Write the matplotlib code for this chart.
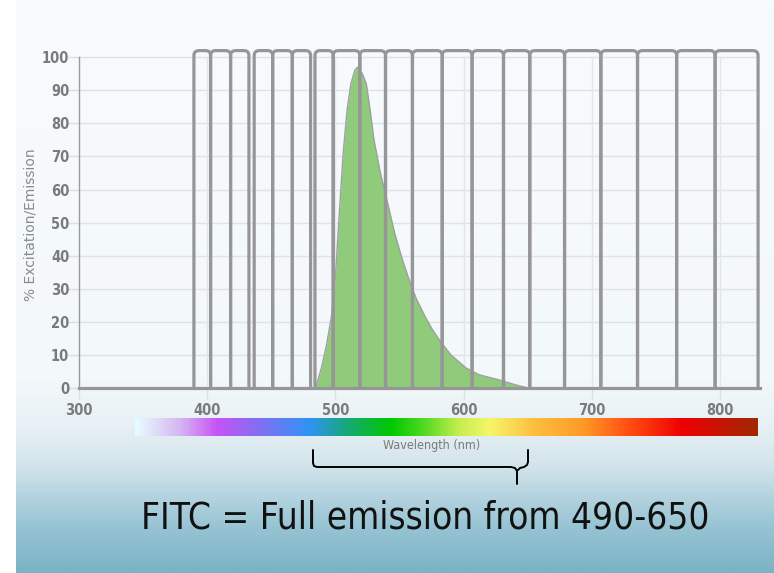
import numpy as np
import matplotlib
matplotlib.use("Agg")
import matplotlib.pyplot as plt
from matplotlib.patches import FancyBboxPatch
from matplotlib.colors import LinearSegmentedColormap
from matplotlib.lines import Line2D

# ---------------- data ----------------
# filter band edges (nm); each band is a rectangle [lo, hi]
band_lo = [389.6, 402.6, 418.2, 436.6, 451.0, 466.3, 484.0, 498.2, 519.0, 539.0,
           560.0, 583.2, 606.5, 631.0, 651.5, 678.6, 706.9, 735.5, 766.0, 796.0]
band_hi = [402.6, 418.2, 432.5, 451.0, 466.3, 480.6, 498.2, 519.0, 539.0, 560.0,
           583.2, 606.5, 631.0, 651.5, 678.6, 706.9, 735.5, 766.0, 796.0, 829.5]
band_height = 102

# FITC emission spectrum
em_wl = [484, 486, 489, 493, 497, 500, 503, 506, 509, 512, 515, 517, 519, 521, 524,
         527, 530, 535, 540, 546, 552, 558, 563, 570, 575, 581, 590, 602, 612, 628, 640, 650]
em_val = [0, 2, 6, 13, 22, 34, 53, 71, 84, 92, 96, 97, 96, 95, 92,
          84, 75, 65, 57, 47, 39, 32, 27, 21.5, 18, 14.5, 10, 6, 4, 2.4, 1, 0]

x_ticks = [300, 400, 500, 600, 700, 800]
y_ticks = list(range(0, 101, 10))

# spectrum bar colour stops
spec_pos = [0.0, 0.07, 0.13, 0.19, 0.28, 0.34, 0.41, 0.46, 0.52, 0.57,
            0.64, 0.72, 0.80, 0.88, 0.94, 1.0]
spec_col = ["#e6fbff", "#d6b6f2", "#c653f6", "#8a6cf2", "#2e94f5", "#16a878",
            "#00c800", "#4cd820", "#c4ee50", "#f6f66a", "#fcc040", "#ff9a28",
            "#ff4a10", "#f00000", "#c81400", "#a02800"]

W, H = 774, 573
def fx(px):
    return px / W
def fy(py):
    return 1 - py / H

fig = plt.figure(figsize=(W / 100, H / 100), dpi=100, facecolor="white")

# ---------------- slide background ----------------
bg = fig.add_axes([fx(16), 0, 1 - fx(16), 1], zorder=-10)
bg_stops_y = [0, 380, 430, 470, 500, 530, 573]
bg_stops_c = ["#f8fbfd", "#f3f8fa", "#e6f0f4", "#d0e3ea", "#b2d2de", "#96c3d3", "#7cb3c6"]
bg_cmap = LinearSegmentedColormap.from_list(
    "bg", list(zip([v / H for v in bg_stops_y], bg_stops_c)))
grad = np.linspace(0, 1, 400).reshape(-1, 1)
bg.imshow(grad, aspect="auto", cmap=bg_cmap, extent=[0, 1, 1, 0])
bg.set_axis_off()

# ---------------- main axes ----------------
ax = fig.add_axes([fx(79), fy(388), fx(760) - fx(79), fy(44) - fy(388)])
ax.set_facecolor("none")
ax.set_xlim(300, 831)
ax.set_ylim(0, 104)

# grid
for yv in y_ticks:
    ax.axhline(yv, color="#dde4e7", lw=1.0, zorder=0)
for xv in x_ticks[1:]:
    ax.plot([xv, xv], [0, 100], color="#e2e8ea", lw=1.0, zorder=0)

# emission fill
ax.fill_between(em_wl, em_val, 0, color="#8fcb7a", lw=0, zorder=2)
ax.plot(em_wl, em_val, color="#a0a0a0", lw=1.0, zorder=2.5)

# filter bands (rounded rectangles, bottoms hidden below the axis)
xpp = (831 - 300) / (760 - 79)
ypp = 104 / (388 - 44)
for lo, hi in zip(band_lo, band_hi):
    p = FancyBboxPatch((lo, -6), hi - lo, band_height + 6,
                       boxstyle="round,pad=0,rounding_size=%f" % (5 * xpp),
                       mutation_aspect=ypp / xpp,
                       fc="none", ec="#969696", lw=2.3, zorder=3)
    ax.add_patch(p)

# spines / ticks
for s in ["top", "right"]:
    ax.spines[s].set_visible(False)
ax.spines["left"].set_color("#9a9a9a")
ax.spines["left"].set_linewidth(1.0)
ax.spines["left"].set_bounds(0, 100)
ax.spines["bottom"].set_color("#969696")
ax.spines["bottom"].set_linewidth(2.3)
ax.spines["bottom"].set_zorder(4)
ax.set_xticks(x_ticks)
ax.set_yticks(y_ticks)
ax.tick_params(axis="both", colors="#dadfe2", length=8, width=1,
               labelcolor="#7a7a7a", labelsize=10.5)
ax.tick_params(axis="y", length=8, pad=-1)
ax.tick_params(axis="x", pad=3)
for lab in ax.get_xticklabels() + ax.get_yticklabels():
    lab.set_fontfamily("DejaVu Sans")
    lab.set_fontstretch("condensed")
    lab.set_fontweight("bold")

fig.text(fx(31), fy(225), "% Excitation/Emission", rotation=90, ha="center",
         va="center", color="#8a8a8a", fontsize=10, family="DejaVu Sans")

# ---------------- spectrum bar ----------------
sax = fig.add_axes([fx(135), fy(436), fx(758) - fx(135), fy(418) - fy(436)])
spec_cmap = LinearSegmentedColormap.from_list("spec", list(zip(spec_pos, spec_col)))
sax.imshow(np.linspace(0, 1, 600).reshape(1, -1), aspect="auto", cmap=spec_cmap)
sax.set_axis_off()

fig.text(fx(432), fy(446), "Wavelength (nm)", ha="center", va="center",
         color="#7a7a7a", fontsize=9, family="DejaVu Sans", fontstretch="condensed")

# ---------------- bracket ----------------
def pline(xs, ys):
    fig.add_artist(Line2D([fx(v) for v in xs], [fy(v) for v in ys],
                          transform=fig.transFigure, color="black", lw=1.4,
                          solid_joinstyle="round", solid_capstyle="round"))
pline([313, 313, 314, 317, 511, 515, 517, 517], [450, 463, 466, 467, 467, 468, 471, 484])
pline([517, 520, 524, 527, 528, 528], [471, 468, 467, 465, 462, 450])

fig.text(fx(425), fy(518), "FITC = Full emission from 490-650", ha="center",
         va="center", color="#111111", fontsize=26.5, family="DejaVu Sans",
         fontstretch="condensed")

fig.savefig("out.png", dpi=100)
